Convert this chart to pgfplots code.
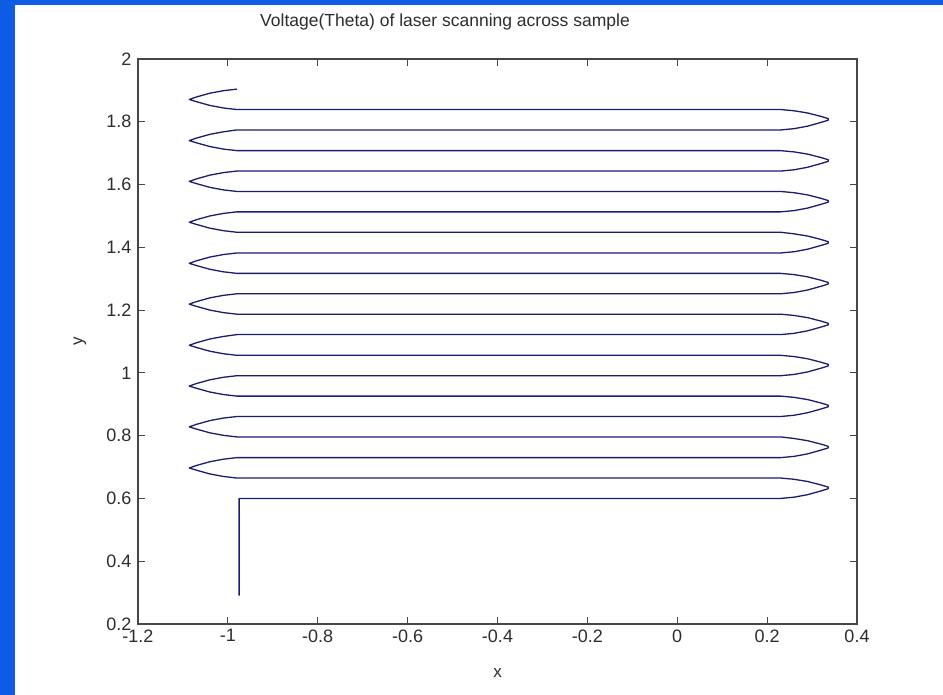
\documentclass[border=0pt]{standalone}
\usepackage{pgfplots}
\pgfplotsset{compat=1.18}
\usepackage{fontspec}
\setmainfont{Liberation Sans}
\definecolor{bgblue}{RGB}{12,92,228}
\definecolor{trace}{RGB}{28,28,112}
\definecolor{axgray}{RGB}{70,70,70}
\definecolor{txt}{RGB}{45,45,45}
\begin{document}
\begin{tikzpicture}[x=1pt,y=1pt]
\path[use as bounding box] (0,0) rectangle (943,695);
\fill[bgblue] (0,0) rectangle (943,695);
\fill[white] (15,0) rectangle (943,690);
\node[font=\fontsize{17.5}{18}\selectfont, text=txt] at (445,673) {Voltage(Theta) of laser scanning across sample};
\begin{axis}[
  at={(138pt,71pt)}, anchor=south west,
  width=719pt, height=565pt, scale only axis,
  xmin=-1.2, xmax=0.4, ymin=0.2, ymax=2,
  xtick={-1.2,-1,-0.8,-0.6,-0.4,-0.2,0,0.2,0.4},
  ytick={0.2,0.4,0.6,0.8,1,1.2,1.4,1.6,1.8,2},
  tick align=inside, major tick length=7pt,
  axis line style={axgray, line width=1.1pt},
  every tick/.style={axgray, line width=1pt},
  tick label style={font=\fontsize{18}{18}\selectfont, text=txt},
  /pgf/number format/assume math mode=true,
  yticklabel style={xshift=-3pt},
  xticklabel style={yshift=-2pt},
  xlabel={x}, ylabel={y},
  xlabel style={font=\fontsize{17}{17}\selectfont, text=txt, at={(axis description cs:0.5,0)}, anchor=center, yshift=-49pt},
  ylabel style={font=\fontsize{17}{17}\selectfont, text=txt, at={(axis description cs:0,0.5)}, anchor=center, yshift=58pt},
  clip=false
]
\addplot[trace, line width=1.3pt, line join=round] coordinates {
(-0.975,0.29)(-0.975,0.600)
(0.23,0.600)(0.26,0.604)(0.29,0.612)(0.32,0.624)(0.336,0.631)(0.336,0.636)(0.32,0.643)(0.29,0.654)(0.26,0.661)(0.23,0.665)
(-0.98,0.665)(-1.01,0.670)(-1.04,0.678)(-1.07,0.690)(-1.086,0.697)(-1.07,0.705)(-1.04,0.717)(-1.01,0.725)(-0.98,0.730)
(0.23,0.730)(0.26,0.734)(0.29,0.742)(0.32,0.754)(0.336,0.761)(0.336,0.766)(0.32,0.773)(0.29,0.784)(0.26,0.791)(0.23,0.796)
(-0.98,0.796)(-1.01,0.801)(-1.04,0.809)(-1.07,0.821)(-1.086,0.828)(-1.07,0.836)(-1.04,0.848)(-1.01,0.856)(-0.98,0.861)
(0.23,0.861)(0.26,0.865)(0.29,0.873)(0.32,0.885)(0.336,0.892)(0.336,0.897)(0.32,0.904)(0.29,0.915)(0.26,0.922)(0.23,0.926)
(-0.98,0.926)(-1.01,0.931)(-1.04,0.939)(-1.07,0.951)(-1.086,0.958)(-1.07,0.966)(-1.04,0.978)(-1.01,0.986)(-0.98,0.991)
(0.23,0.991)(0.26,0.995)(0.29,1.003)(0.32,1.015)(0.336,1.022)(0.336,1.027)(0.32,1.034)(0.29,1.045)(0.26,1.052)(0.23,1.056)
(-0.98,1.056)(-1.01,1.061)(-1.04,1.069)(-1.07,1.081)(-1.086,1.088)(-1.07,1.096)(-1.04,1.108)(-1.01,1.116)(-0.98,1.122)
(0.23,1.122)(0.26,1.126)(0.29,1.134)(0.32,1.146)(0.336,1.153)(0.336,1.158)(0.32,1.165)(0.29,1.176)(0.26,1.183)(0.23,1.187)
(-0.98,1.187)(-1.01,1.192)(-1.04,1.200)(-1.07,1.212)(-1.086,1.219)(-1.07,1.227)(-1.04,1.239)(-1.01,1.247)(-0.98,1.252)
(0.23,1.252)(0.26,1.256)(0.29,1.264)(0.32,1.276)(0.336,1.283)(0.336,1.288)(0.32,1.295)(0.29,1.306)(0.26,1.313)(0.23,1.317)
(-0.98,1.317)(-1.01,1.322)(-1.04,1.330)(-1.07,1.342)(-1.086,1.349)(-1.07,1.357)(-1.04,1.369)(-1.01,1.377)(-0.98,1.382)
(0.23,1.382)(0.26,1.386)(0.29,1.394)(0.32,1.406)(0.336,1.413)(0.336,1.418)(0.32,1.425)(0.29,1.436)(0.26,1.443)(0.23,1.448)
(-0.98,1.448)(-1.01,1.453)(-1.04,1.461)(-1.07,1.473)(-1.086,1.480)(-1.07,1.488)(-1.04,1.500)(-1.01,1.508)(-0.98,1.513)
(0.23,1.513)(0.26,1.517)(0.29,1.525)(0.32,1.537)(0.336,1.544)(0.336,1.549)(0.32,1.556)(0.29,1.567)(0.26,1.574)(0.23,1.578)
(-0.98,1.578)(-1.01,1.583)(-1.04,1.591)(-1.07,1.603)(-1.086,1.610)(-1.07,1.618)(-1.04,1.630)(-1.01,1.638)(-0.98,1.643)
(0.23,1.643)(0.26,1.647)(0.29,1.655)(0.32,1.667)(0.336,1.674)(0.336,1.679)(0.32,1.686)(0.29,1.697)(0.26,1.704)(0.23,1.708)
(-0.98,1.708)(-1.01,1.713)(-1.04,1.721)(-1.07,1.733)(-1.086,1.740)(-1.07,1.748)(-1.04,1.760)(-1.01,1.768)(-0.98,1.774)
(0.23,1.774)(0.26,1.778)(0.29,1.786)(0.32,1.798)(0.336,1.805)(0.336,1.810)(0.32,1.817)(0.29,1.828)(0.26,1.835)(0.23,1.839)
(-0.98,1.839)(-1.01,1.844)(-1.04,1.852)(-1.07,1.864)(-1.086,1.871)(-1.07,1.879)(-1.04,1.891)(-1.01,1.899)(-0.98,1.904)
};
\end{axis}
\end{tikzpicture}
\end{document}
